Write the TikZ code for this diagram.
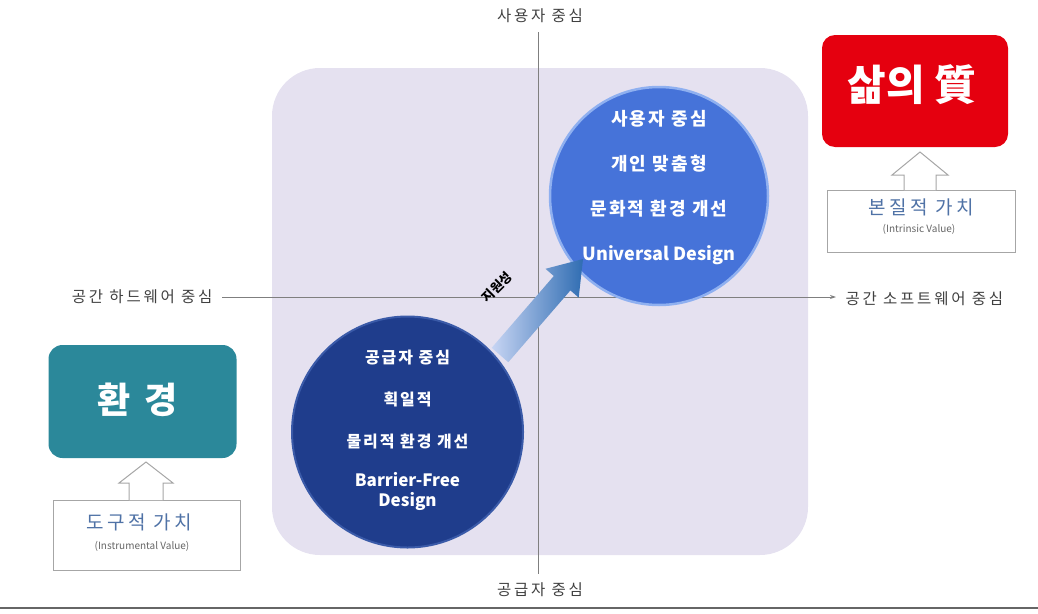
\documentclass[tikz,border=0pt]{standalone}
\usepackage{fontspec}
\setmainfont{Noto Sans CJK KR}
\newfontfamily\krwide{Noto Sans CJK KR}[LetterSpace=18]
\newfontfamily\krmid{Noto Sans CJK KR}[LetterSpace=12]
\usetikzlibrary{arrows.meta}
\definecolor{lav}{HTML}{E5E1F0}
\definecolor{ublue}{HTML}{4673D9}
\definecolor{urim}{HTML}{8FB0F0}
\definecolor{navy}{HTML}{1F3D8C}
\definecolor{navyrim}{HTML}{3A5AA8}
\definecolor{qred}{HTML}{E5000F}
\definecolor{teal}{HTML}{2B889A}
\definecolor{axisg}{HTML}{7F7F7F}
\definecolor{valblue}{HTML}{4F72A6}
\definecolor{boxg}{HTML}{A6A6A6}
\tikzset{
  axislbl/.style={font=\krwide\fontsize{15.5}{17}\selectfont, text=black!75},
  axisline/.style={draw=axisg, line width=0.9pt},
  circtext/.style={text=white, align=center},
  valbox/.style={draw=boxg, fill=white, line width=1pt},
  valtext/.style={text=valblue, font=\krwide\fontsize{19}{21}\selectfont},
  valsub/.style={text=black!60, font=\fontsize{10}{12}\selectfont},
  hollow/.style={draw=boxg, fill=white, line width=1pt, line join=miter},
}
\begin{document}
\begin{tikzpicture}[x=1pt,y=-1pt]
\useasboundingbox (0,0) rectangle (1038,613);
% background panel
\node[fill=lav, rounded corners=48pt, minimum width=536pt, minimum height=487pt, inner sep=0pt] (panel) at (540,311.5) {};
% axes
\coordinate (vt) at (538,32);
\coordinate (vb) at (538,574);
\coordinate (hl) at (222,297);
\coordinate (hr) at (836,297);
\draw[axisline] (vt) -- (vb);
\draw[axisline, -{Stealth[length=6pt,width=4pt]}] (hl) -- (hr);
\node[axislbl] (ltop) at (540,16) {사용자 중심};
\node[axislbl] (lbot) at (540,590) {공급자 중심};
\node[axislbl, anchor=east] (lleft) at (216,297) {공간 하드웨어 중심};
\node[axislbl, anchor=west] (lright) at (842,299) {공간 소프트웨어 중심};
% bottom rule
\coordinate (rl) at (0,608);
\coordinate (rr) at (1038,608);
\draw[draw=black!60, line width=1.6pt] (rl) -- (rr);
% circles
\node[circle, fill=ublue, draw=urim, line width=2.5pt, minimum size=218pt, inner sep=0pt] (uc) at (659,196) {};
\node[circtext, font=\bfseries\krmid\fontsize{18}{45}\selectfont] (uct) at (659,188)
  {사용자 중심\\개인 맞춤형\\문화적 환경 개선\\{\fontspec{Noto Sans CJK KR}\bfseries Universal Design}};
\node[circle, fill=navy, draw=navyrim, line width=2pt, minimum size=231pt, inner sep=0pt] (lc) at (407.5,432) {};
\node[circtext, font=\bfseries\krmid\fontsize{16}{42}\selectfont] (lct) at (407.5,430)
  {공급자 중심\\획일적\\물리적 환경 개선\\[-3pt]{\fontspec{Noto Sans CJK KR}\bfseries\fontsize{17}{20}\selectfont Barrier-Free}\\[-22pt]{\fontspec{Noto Sans CJK KR}\bfseries\fontsize{17}{20}\selectfont Design}};
% shaded arrow
\shade[left color=white!70!ublue, right color=ublue!85!cyan!80!black]
  (491.7,347.8) -- (553.8,276.0) -- (545.5,268.8) -- (583,259) -- (578.7,297.6) -- (570.4,290.4) -- (508.3,362.2) -- cycle;
\node[rotate=45, font=\bfseries\fontsize{13}{15}\selectfont] (sup) at (497,287) {지원성};
% right: quality of life
\node[fill=qred, rounded corners=13pt, minimum width=186pt, minimum height=112pt, inner sep=0pt] (qol) at (915,91) {};
\node[text=white, font=\bfseries\fontsize{42}{46}\selectfont] (qolt) at (912,85) {삶의 質};
\node[valbox, minimum width=188pt, minimum height=62pt, inner sep=0pt] (ivb) at (921,221) {};
\node[valtext] (ivt) at (921,207) {본질적 가치};
\node[valsub] (ive) at (919,229) {(Intrinsic Value)};
\draw[hollow] (904,190) -- (904,175) -- (892,175) -- (920,152) -- (948,175) -- (936,175) -- (936,190);
% left: environment
\node[fill=teal, rounded corners=14pt, minimum width=188pt, minimum height=113pt, inner sep=0pt] (env) at (142.5,401.5) {};
\node[text=white, font=\bfseries\fontsize{36}{40}\selectfont] (envt) at (138,400) {환\hspace{14pt}경};
\node[valbox, minimum width=187pt, minimum height=70pt, inner sep=0pt] (tvb) at (146.5,535) {};
\node[valtext] (tvt) at (139,522) {도구적 가치};
\node[valsub] (tve) at (142,546) {(Instrumental Value)};
\draw[hollow] (129,500) -- (129,483) -- (119,483) -- (146,462) -- (173,483) -- (163,483) -- (163,500);
\end{tikzpicture}
\end{document}
